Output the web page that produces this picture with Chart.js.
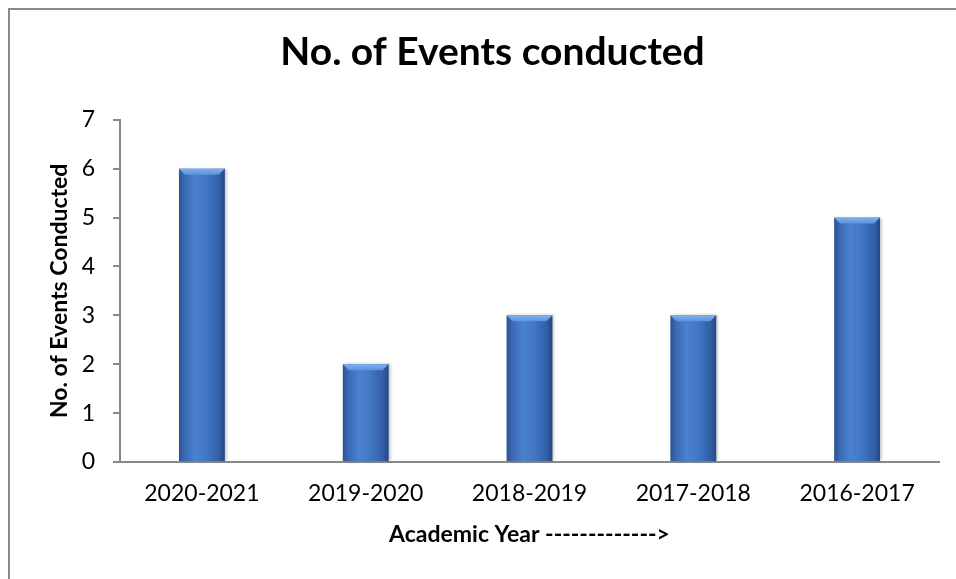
<!DOCTYPE html>
<html>
<head>
<meta charset="utf-8">
<script src="https://cdn.jsdelivr.net/npm/chart.js@4"></script>
<style>
  html, body { margin: 0; padding: 0; background: #fff; }
  #wrap { position: relative; width: 956px; height: 579px; overflow: hidden; }
  #frame {
    position: absolute; left: 8px; top: 8px; width: 1000px; height: 700px;
    border: 2px solid #8a8a8a; box-sizing: border-box; pointer-events: none;
  }
  canvas { position: absolute; left: 0; top: 0; }
</style>
</head>
<body>
<div id="wrap">
  <canvas id="events" width="956" height="579"></canvas>
  <div id="frame"></div>
</div>
<script>
const years = ["2020-2021", "2019-2020", "2018-2019", "2017-2018", "2016-2017"];
const eventCounts = [6, 2, 3, 3, 5];
const yTicks = [0, 1, 2, 3, 4, 5, 6, 7];

const axisGrey = "#898989";
const font = "Lato, 'Liberation Sans', sans-serif";

// draws each bar as a shaded column with a bevelled top, using the bar elements' own geometry
const columnShade = {
  id: "columnShade",
  afterDatasetsDraw(chart) {
    const ctx = chart.ctx;
    chart.getDatasetMeta(0).data.forEach((bar) => {
      const { x, y, base, width } = bar.getProps(["x", "y", "base", "width"], true);
      const left = x - width / 2;
      const right = x + width / 2;

      ctx.save();
      ctx.shadowColor = "rgba(0,0,0,0.25)";
      ctx.shadowOffsetX = 2;
      ctx.shadowBlur = 3;
      const g = ctx.createLinearGradient(left, 0, right, 0);
      g.addColorStop(0, "#2d5291");
      g.addColorStop(0.12, "#3b68b3");
      g.addColorStop(0.35, "#4a82d0");
      g.addColorStop(0.6, "#4277c4");
      g.addColorStop(0.88, "#315ea6");
      g.addColorStop(1, "#234682");
      ctx.fillStyle = g;
      ctx.fillRect(left, y, width, base - y);
      ctx.restore();

      // bevel on top
      const bevel = 6;
      ctx.save();
      const tg = ctx.createLinearGradient(0, y, 0, y + bevel);
      tg.addColorStop(0, "#7fb0ec");
      tg.addColorStop(1, "#5d92dc");
      ctx.fillStyle = tg;
      ctx.beginPath();
      ctx.moveTo(left, y);
      ctx.lineTo(right, y);
      ctx.lineTo(right - bevel, y + bevel);
      ctx.lineTo(left + bevel, y + bevel);
      ctx.closePath();
      ctx.fill();
      ctx.restore();
    });
  }
};

new Chart(document.getElementById("events"), {
  type: "bar",
  data: {
    labels: years,
    datasets: [{
      label: "No. of Events Conducted",
      data: eventCounts,
      backgroundColor: "rgba(0,0,0,0)",
      borderWidth: 0,
      barPercentage: 0.28,
      categoryPercentage: 1
    }]
  },
  options: {
    responsive: false,
    animation: false,
    devicePixelRatio: 1,
    layout: { padding: { left: 46, right: 17, top: 0, bottom: 31 } },
    plugins: {
      legend: { display: false },
      tooltip: { enabled: false },
      title: {
        display: true,
        text: "No. of Events conducted",
        color: "#000",
        font: { family: font, size: 39, weight: "bold" },
        padding: { top: 29, bottom: 44 }
      }
    },
    scales: {
      x: {
        grid: { display: false, drawTicks: false },
        border: { display: true, color: axisGrey, width: 2 },
        ticks: { color: "#000", padding: 18, font: { family: font, size: 23 } },
        title: {
          display: true,
          text: "Academic Year ------------->",
          color: "#000",
          font: { family: font, size: 23, weight: "bold" },
          padding: { top: 0, bottom: 0 }
        },
        afterFit(scale) { scale.height = 86; }
      },
      y: {
        min: 0,
        max: 7,
        afterBuildTicks(scale) { scale.ticks = yTicks.map((v) => ({ value: v })); },
        grid: { drawOnChartArea: false, drawTicks: true, tickLength: 7, color: axisGrey, lineWidth: 2 },
        border: { display: true, color: axisGrey, width: 2 },
        ticks: { color: "#000", padding: 18, font: { family: font, size: 23 } },
        title: {
          display: true,
          text: "No. of Events Conducted",
          color: "#000",
          font: { family: font, size: 23, weight: "bold" },
          padding: { top: 0, bottom: 0 }
        },
        afterFit(scale) { scale.width = 74; }
      }
    }
  },
  plugins: [columnShade]
});
</script>
</body>
</html>
